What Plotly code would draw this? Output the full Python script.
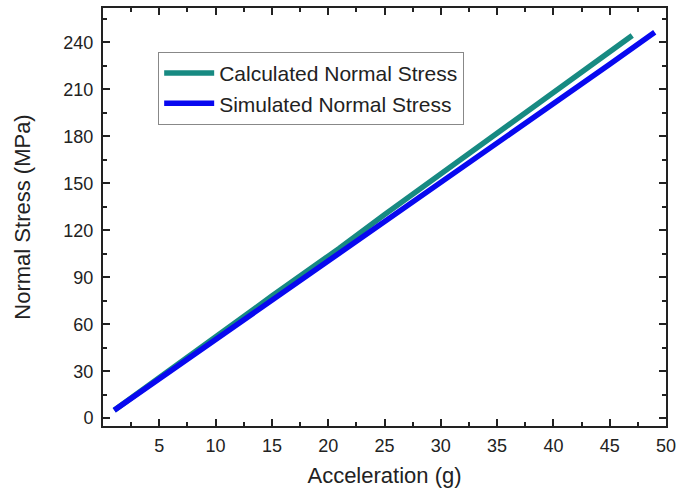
import plotly.graph_objects as go

calc_x = [1, 5, 10, 15, 20, 21, 25, 30, 35, 40, 45, 47]
calc_y = [5, 26, 52, 78, 103.5, 108.5, 130, 156, 182, 208, 234, 244.5]
sim_x = [1, 5, 10, 15, 20, 21, 25, 30, 35, 40, 45, 49]
sim_y = [5, 25, 50, 75.5, 100.5, 105.5, 125.5, 151, 176, 201, 226, 246.5]

x_ticks = [5, 10, 15, 20, 25, 30, 35, 40, 45, 50]
y_ticks = [0, 30, 60, 90, 120, 150, 180, 210, 240]

FONT = "Liberation Sans, Arial"

fig = go.Figure()
fig.add_trace(go.Scatter(x=calc_x, y=calc_y, mode="lines", name="Calculated Normal Stress",
                         line=dict(color="#178a82", width=5.5)))
fig.add_trace(go.Scatter(x=sim_x, y=sim_y, mode="lines", name="Simulated Normal Stress",
                         line=dict(color="#0808f0", width=5.5)))

axis_common = dict(showline=True, linecolor="#222", linewidth=2, mirror="allticks",
                   ticks="inside", ticklen=7, tickwidth=2, tickcolor="#222",
                   showgrid=False, zeroline=False, automargin=False,
                   tickfont=dict(family=FONT, size=18, color="#222"))

fig.update_xaxes(range=[0, 50], tickvals=x_ticks, ticklabelstandoff=2,
                 minor=dict(ticks="inside", ticklen=4, tickwidth=2, tickcolor="#222", dtick=2.5, tick0=0),
                 title=dict(text="Acceleration (g)", font=dict(family=FONT, size=22, color="#222"), standoff=13),
                 **axis_common)
fig.update_yaxes(range=[-5, 262], tickvals=y_ticks, ticklabelstandoff=4,
                 minor=dict(ticks="inside", ticklen=4, tickwidth=2, tickcolor="#222", dtick=15, tick0=0),
                 title=dict(text="Normal Stress (MPa)", font=dict(family=FONT, size=22, color="#222"), standoff=27),
                 **axis_common)

fig.update_layout(width=677, height=488, margin=dict(l=103, r=11, t=8, b=62),
                  plot_bgcolor="white", paper_bgcolor="white",
                  legend=dict(x=0.098, y=0.895, xanchor="left", yanchor="top",
                              bordercolor="#888", borderwidth=1, bgcolor="white",
                              font=dict(family=FONT, size=21, color="#222"),
                              tracegroupgap=0, itemwidth=50))

fig.write_html("out.html")
